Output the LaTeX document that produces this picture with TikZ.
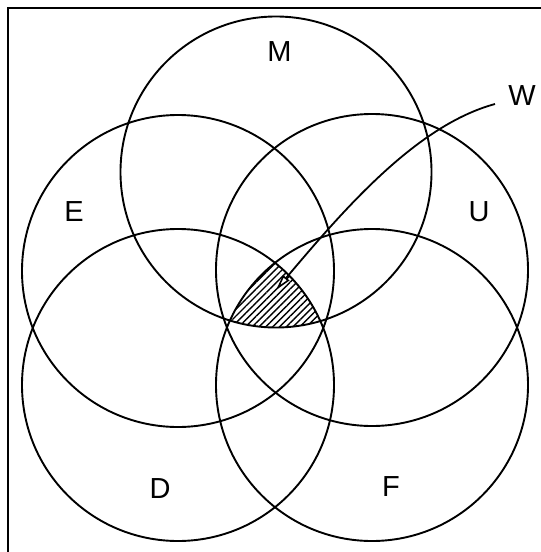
\documentclass[tikz,border=0pt]{standalone}
\usepackage{fontspec}
\setmainfont{Liberation Sans}
\usetikzlibrary{patterns.meta,arrows.meta}
\tikzset{
  ring/.style={line width=1.9pt},
  lbl/.style={font=\fontsize{29}{32}\selectfont, inner sep=0pt},
  framestyle/.style={line width=2.6pt},
  hatch/.style={pattern={Lines[angle=45,distance=4.8pt,line width=1.4pt]}},
  pointer/.style={line width=1.8pt,-{Triangle[length=16pt,width=8pt,fill=white,line width=1.6pt]}}
}
\begin{document}
\begin{tikzpicture}[x=1pt,y=-1pt]
\useasboundingbox (0,0) rectangle (541,552);
% frame (only top and left edges visible)
\draw[framestyle] (541,8) -- (8,8) -- (8,552);
% centres
\coordinate (cM) at (276,172);
\coordinate (cE) at (178,271);
\coordinate (cU) at (372,270);
\coordinate (cD) at (178,385);
\coordinate (cF) at (372,385);
% hatched region D & F & M
\begin{scope}
  \clip (cD) circle (156);
  \clip (cF) circle (156);
  \fill[hatch] (cM) circle (155.5);
\end{scope}
% circles
\draw[ring] (cM) circle (155.5);
\draw[ring] (cE) circle (156);
\draw[ring] (cU) circle (156);
\draw[ring] (cD) circle (156);
\draw[ring] (cF) circle (156);
% labels
\node[lbl] (M) at (279.5,52) {M};
\node[lbl] (E) at (74,212) {E};
\node[lbl] (U) at (479,212) {U};
\node[lbl] (D) at (160,489) {D};
\node[lbl] (F) at (391,487) {F};
\node[lbl] (W) at (522,96) {W};
% pointer
\coordinate (wtail) at (495,104);
\coordinate (wtip) at (276,290);
\draw[pointer] (wtail) .. controls (418,125) and (347.5,205) .. (wtip);
\end{tikzpicture}
\end{document}
